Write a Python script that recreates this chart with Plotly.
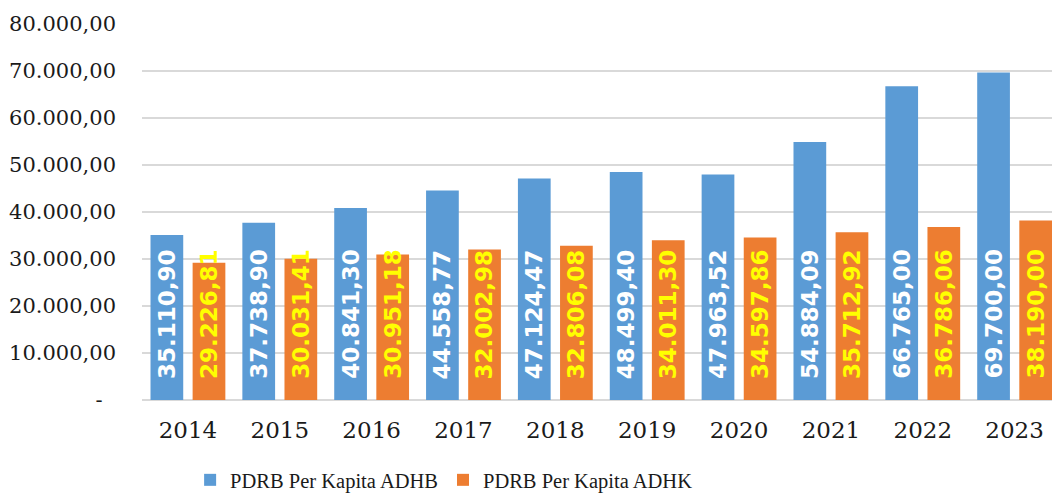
import plotly.graph_objects as go

years = ["2014", "2015", "2016", "2017", "2018", "2019", "2020", "2021", "2022", "2023"]
adhb = [35110.90, 37738.90, 40841.30, 44558.77, 47124.47, 48499.40, 47963.52, 54884.09, 66765.00, 69700.00]
adhk = [29226.81, 30031.41, 30951.18, 32002.98, 32806.08, 34011.30, 34597.86, 35712.92, 36786.06, 38190.00]
series_names = ["PDRB Per Kapita ADHB", "PDRB Per Kapita ADHK"]
ytick_vals = [0, 10000, 20000, 30000, 40000, 50000, 60000, 70000, 80000]


def fmt(v):
    s = f"{v:,.2f}"
    return s.replace(",", "X").replace(".", ",").replace("X", ".")


ytick_text = ["-\u00a0\u00a0" if v == 0 else fmt(v) for v in ytick_vals]

BLUE = "#5B9BD5"
ORANGE = "#ED7D31"

fig = go.Figure()
fig.add_trace(go.Bar(x=years, y=adhb, name=series_names[0], marker=dict(color=BLUE, line=dict(width=0))))
fig.add_trace(go.Bar(x=years, y=adhk, name=series_names[1], marker=dict(color=ORANGE, line=dict(width=0))))

annotations = []
for i in range(len(years)):
    for vals, shift, col in ((adhb, -21, "white"), (adhk, 21, "#FFFF00")):
        annotations.append(dict(
            x=i, y=0, xref="x", yref="y", text=fmt(vals[i]), showarrow=False,
            textangle=-90, xanchor="center", yanchor="bottom", xshift=shift, yshift=19,
            font=dict(family="DejaVu Sans", size=23, color=col, weight="bold"),
        ))

fig.update_layout(
    width=1052, height=493,
    margin=dict(l=142, r=0, t=24, b=93, autoexpand=False),
    paper_bgcolor="white", plot_bgcolor="white",
    barmode="group", bargap=0.083, bargroupgap=0.223,
    annotations=annotations,
    showlegend=True,
    legend=dict(orientation="h", x=0.332, xanchor="center", y=-0.2128, yanchor="middle",
                font=dict(family="Liberation Serif", size=20.5, color="#1a1a1a"),
                itemclick=False, traceorder="normal"),
    xaxis=dict(type="category", range=[-0.5, 9.407], showgrid=False, showline=False, zeroline=False,
               ticks="", ticklabelstandoff=14,
               tickfont=dict(family="DejaVu Serif", size=23, color="#1a1a1a")),
    yaxis=dict(range=[0, 80000], tickvals=ytick_vals, ticktext=ytick_text,
               showgrid=True, gridcolor="#D9D9D9", gridwidth=1.5, zeroline=True,
               zerolinecolor="#D9D9D9", zerolinewidth=1.5, showline=False, ticks="",
               ticklabelstandoff=25,
               tickfont=dict(family="DejaVu Serif", size=21, color="#1a1a1a")),
)

fig.write_html("out.html", config={"displayModeBar": False},
               post_script="document.body.style.margin='0';document.body.style.overflow='hidden';")
